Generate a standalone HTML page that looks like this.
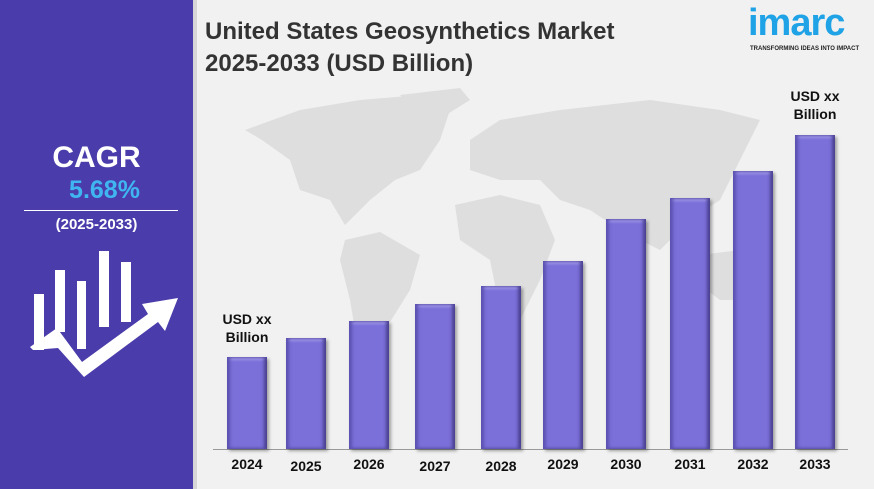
<!DOCTYPE html>
<html><head><meta charset="utf-8"><style>
body{margin:0;width:874px;height:489px;overflow:hidden;background:#f1f1f1;font-family:"Liberation Sans",Arial,sans-serif;position:relative}
.side{position:absolute;left:0;top:0;width:193px;height:489px;background:#4a3dab;border-right:4px solid #d6d6d6}
.t{position:absolute;font-weight:bold}
.bar{position:absolute;width:40px;background:#7b70d9;box-shadow:inset 3px 0 3px #5a50b0,inset -3px 0 3px #4a4090,inset 0 3px 2px #a9a0f0,2px 2px 3px rgba(0,0,0,.35)}
.yr{position:absolute;top:456px;width:60px;text-align:center;font-weight:bold;font-size:14px;color:#111}
</style></head><body>
<div class="side"></div>
<div class="t" style="left:0;width:193px;text-align:center;top:141px;font-size:30px;color:#fff">CAGR</div>
<div class="t" style="left:8px;width:193px;text-align:center;top:176px;font-size:25px;color:#3fb6f0">5.68%</div>
<div style="position:absolute;left:24px;top:210px;width:154px;height:1px;background:#fff"></div>
<div class="t" style="left:0;width:193px;text-align:center;top:216px;font-size:15px;color:#fff">(2025-2033)</div>
<svg style="position:absolute;left:0;top:0" width="200" height="489">
<g fill="#fff"><rect x="34" y="294" width="10" height="56"/><rect x="55" y="270" width="10" height="62"/><rect x="77" y="281" width="9" height="68"/><rect x="99" y="251" width="10" height="76"/><rect x="121" y="262" width="10" height="60"/>
<polygon points="30,347 57,328 82,362 148,314 142,304 178,298 165,331 158,322 84,377 58,348 33,350"/></g></svg>
<div class="t" style="left:205px;top:16px;font-size:24px;color:#333;line-height:32px">United States Geosynthetics Market<br>2025-2033 (USD Billion)</div>
<div class="t" style="left:748px;top:2px;font-size:38px;color:#1fa3e6;letter-spacing:-1px">imarc</div>
<div class="t" style="left:750px;top:46px;font-size:6px;color:#222">TRANSFORMING IDEAS INTO IMPACT</div>
<svg style="position:absolute;left:0;top:0" width="874" height="489"><g fill="#dedede">
<polygon points="245,130 300,110 360,100 420,95 450,110 440,140 420,170 395,180 370,200 345,225 330,200 300,190 290,160 262,140"/>
<polygon points="400,95 460,88 470,100 430,125"/>
<polygon points="345,240 380,232 420,255 410,290 385,330 370,385 360,360 350,300 340,260"/>
<polygon points="470,140 500,120 560,110 650,100 720,110 760,120 740,160 720,200 690,220 660,250 620,230 590,210 560,200 540,180 500,180 470,170"/>
<polygon points="455,205 500,195 540,205 555,240 540,280 520,320 500,310 490,260 460,240"/>
<polygon points="700,255 740,250 765,270 755,300 720,300 700,285"/>
</g></svg>
<div style="position:absolute;left:213px;top:449px;width:635px;height:1px;background:#999"></div>
<div class="bar" style="left:227px;top:357px;height:92px"></div>
<div class="bar" style="left:286px;top:338px;height:111px"></div>
<div class="bar" style="left:349px;top:321px;height:128px"></div>
<div class="bar" style="left:415px;top:304px;height:145px"></div>
<div class="bar" style="left:481px;top:286px;height:163px"></div>
<div class="bar" style="left:543px;top:261px;height:188px"></div>
<div class="bar" style="left:606px;top:219px;height:230px"></div>
<div class="bar" style="left:670px;top:198px;height:251px"></div>
<div class="bar" style="left:733px;top:171px;height:278px"></div>
<div class="bar" style="left:795px;top:135px;height:314px"></div>
<div class="yr" style="left:217px">2024</div><div class="yr" style="left:276px;top:458px">2025</div><div class="yr" style="left:339px">2026</div><div class="yr" style="left:405px;top:458px">2027</div><div class="yr" style="left:471px;top:458px">2028</div><div class="yr" style="left:533px">2029</div><div class="yr" style="left:596px">2030</div><div class="yr" style="left:660px">2031</div><div class="yr" style="left:723px">2032</div><div class="yr" style="left:785px">2033</div>
<div class="t" style="left:207px;width:80px;text-align:center;top:310px;font-size:14px;color:#111;line-height:18px">USD xx<br>Billion</div>
<div class="t" style="left:775px;width:80px;text-align:center;top:87px;font-size:14px;color:#111;line-height:18px">USD xx<br>Billion</div>
</body></html>
